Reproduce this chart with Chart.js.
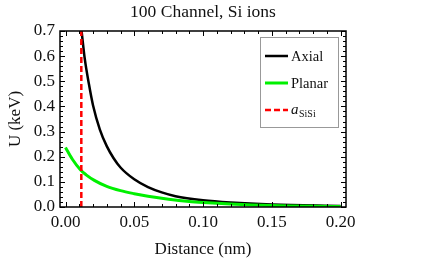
<!DOCTYPE html>
<html>
<head>
<meta charset="utf-8">
<script src="https://cdn.jsdelivr.net/npm/chart.js@4/dist/chart.umd.min.js"></script>
<style>
html,body{margin:0;padding:0;background:#fff;}
#wrap{width:424px;height:265px;}
</style>
</head>
<body>
<div id="wrap"><canvas id="c" width="424" height="265"></canvas></div>
<script>
const titleText = "100 Channel, Si ions";
const xTitle = "Distance (nm)";
const yTitle = "U (keV)";
const seriesNames = ["Axial", "Planar"];
const redName = ["a", "SiSi"];

const distAxial = [0.0117,0.014,0.017,0.020,0.025,0.030,0.035,0.040,0.050,0.060,0.070,0.080,0.100,0.120,0.150,0.200];
const uAxial    = [0.70,0.59,0.49,0.405,0.308,0.242,0.194,0.157,0.110,0.079,0.058,0.043,0.027,0.018,0.010,0.004];
const distPlanar = [0.000,0.005,0.011,0.015,0.021,0.030,0.040,0.050,0.060,0.075,0.090,0.100,0.120,0.150,0.200];
const uPlanar    = [0.237,0.19,0.147,0.128,0.106,0.082,0.065,0.053,0.043,0.031,0.022,0.018,0.012,0.006,0.002];
const aSiSi = [0.0115, 0.0115];
const aSiSiU = [0.0, 0.7];

const xRange = [-0.004, 0.204];
const yRange = [0.0, 0.7];
const xTicks = [0.00, 0.05, 0.10, 0.15, 0.20];
const yTicks = [0.0, 0.1, 0.2, 0.3, 0.4, 0.5, 0.6, 0.7];
const xMinor = [0.01,0.02,0.03,0.04,0.06,0.07,0.08,0.09,0.11,0.12,0.13,0.14,0.16,0.17,0.18,0.19];
const yMinor = [0.02,0.04,0.06,0.08,0.12,0.14,0.16,0.18,0.22,0.24,0.26,0.28,0.32,0.34,0.36,0.38,0.42,0.44,0.46,0.48,0.52,0.54,0.56,0.58,0.62,0.64,0.66,0.68];

const FONT = "'Liberation Serif', 'Times New Roman', serif";
const pts = (xs, ys) => xs.map((x, i) => ({x: x, y: ys[i]}));

const framePlugin = {
  id: 'frame',
  afterDatasetsDraw(chart) {
    const {ctx, chartArea: a, scales: {x, y}} = chart;
    ctx.save();
    ctx.strokeStyle = '#000';
    ctx.lineWidth = 1.5;
    ctx.strokeRect(a.left, a.top, a.right - a.left, a.bottom - a.top);
    ctx.lineWidth = 1;
    ctx.beginPath();
    const tx = (v, len) => {
      const p = Math.round(x.getPixelForValue(v)) + 0.5;
      ctx.moveTo(p, a.bottom); ctx.lineTo(p, a.bottom - len);
      ctx.moveTo(p, a.top); ctx.lineTo(p, a.top + len);
    };
    const ty = (v, len) => {
      const p = Math.round(y.getPixelForValue(v)) + 0.5;
      ctx.moveTo(a.left, p); ctx.lineTo(a.left + len, p);
      ctx.moveTo(a.right, p); ctx.lineTo(a.right - len, p);
    };
    xTicks.forEach(v => tx(v, 5));
    xMinor.forEach(v => tx(v, 3));
    yTicks.forEach(v => ty(v, 5));
    yMinor.forEach(v => ty(v, 3));
    ctx.stroke();
    ctx.restore();
  }
};

const legendPlugin = {
  id: 'boxLegend',
  afterDraw(chart) {
    const ctx = chart.ctx;
    ctx.save();
    const bx = 260, by = 37, bw = 78, bh = 90;
    ctx.fillStyle = '#fff';
    ctx.fillRect(bx, by, bw, bh);
    ctx.strokeStyle = '#999';
    ctx.lineWidth = 1;
    ctx.strokeRect(bx + 0.5, by + 0.5, bw, bh);
    const ds = chart.data.datasets;
    const rows = [56, 83, 110];
    ctx.textBaseline = 'alphabetic';
    ds.forEach((d, i) => {
      const yy = rows[i];
      ctx.beginPath();
      ctx.strokeStyle = d.borderColor;
      ctx.lineWidth = d.borderWidth;
      ctx.setLineDash(d.borderDash || []);
      ctx.moveTo(265, yy); ctx.lineTo(288, yy);
      ctx.stroke();
      ctx.setLineDash([]);
      ctx.fillStyle = '#111';
      if (i < 2) {
        ctx.font = "14.5px " + FONT;
        ctx.fillText(d.label, 291, yy + 5);
      } else {
        ctx.font = "italic 15px " + FONT;
        ctx.fillText(redName[0], 291, yy + 4);
        const w = ctx.measureText(redName[0]).width;
        ctx.font = "10px " + FONT;
        ctx.fillText(redName[1], 291 + w + 0.5, yy + 7);
      }
    });
    ctx.restore();
  }
};

new Chart(document.getElementById('c'), {
  type: 'scatter',
  data: {
    datasets: [
      {label: seriesNames[0], data: pts(distAxial, uAxial), showLine: true, borderColor: '#000', borderWidth: 2.5, pointRadius: 0, cubicInterpolationMode: 'monotone', order: 2},
      {label: seriesNames[1], data: pts(distPlanar, uPlanar), showLine: true, borderColor: 'rgb(0,240,0)', borderWidth: 3, pointRadius: 0, cubicInterpolationMode: 'monotone', order: 1},
      {label: redName.join(''), data: pts(aSiSi, aSiSiU), showLine: true, borderColor: 'rgb(255,0,0)', borderWidth: 2.5, borderDash: [6, 3], pointRadius: 0, order: 0}
    ]
  },
  options: {
    responsive: false,
    animation: false,
    layout: {padding: {left: 0, right: 78, top: 0, bottom: 0}},
    plugins: {
      legend: {display: false},
      tooltip: {enabled: false},
      title: {display: true, fullSize: false, text: titleText, color: '#111', font: {family: FONT, size: 17.5, weight: 'normal'}, padding: {top: 2, bottom: 8}}
    },
    scales: {
      x: {
        type: 'linear', min: xRange[0], max: xRange[1],
        afterBuildTicks: s => { s.ticks = xTicks.map(v => ({value: v})); },
        afterFit: s => { s.height = 58; },
        grid: {display: false, drawTicks: false},
        border: {display: false},
        ticks: {color: '#111', padding: 5, font: {family: FONT, size: 17}, callback: v => Number(v).toFixed(2), maxRotation: 0, autoSkip: false},
        title: {display: true, text: xTitle, color: '#111', font: {family: FONT, size: 17}, padding: 5}
      },
      y: {
        type: 'linear', min: yRange[0], max: yRange[1],
        afterBuildTicks: s => { s.ticks = yTicks.map(v => ({value: v})); },
        afterFit: s => { s.width = 60; },
        grid: {display: false, drawTicks: false},
        border: {display: false},
        ticks: {color: '#111', padding: 5, font: {family: FONT, size: 17}, callback: v => Number(v).toFixed(1), autoSkip: false},
        title: {display: true, text: yTitle, color: '#111', font: {family: FONT, size: 17}, padding: 5}
      }
    }
  },
  plugins: [framePlugin, legendPlugin]
});
</script>
</body>
</html>
